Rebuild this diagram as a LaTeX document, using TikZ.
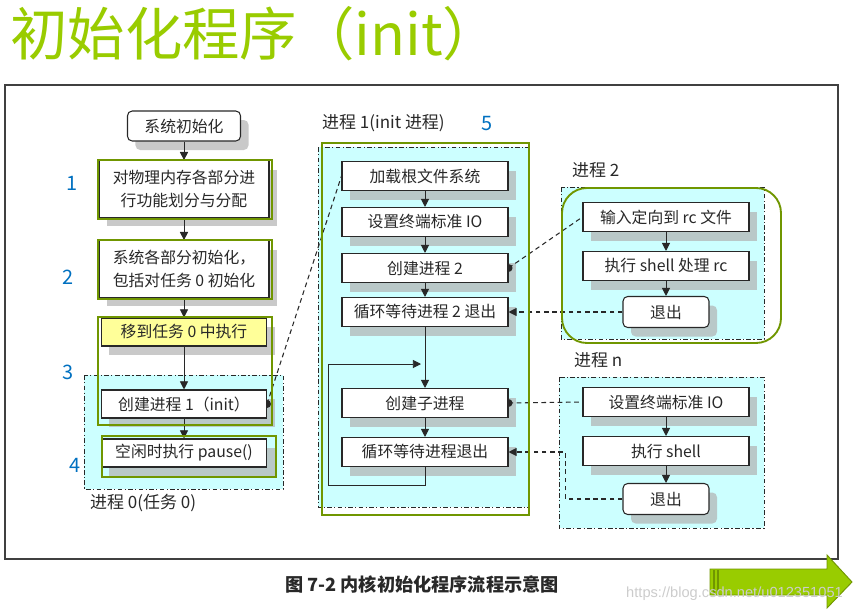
\documentclass[tikz,border=0pt]{standalone}
\usepackage{fontspec}
\setmainfont{Noto Sans CJK SC}
\newfontfamily\urlfont{Liberation Sans}
\usetikzlibrary{shadows, positioning, arrows.meta}

\definecolor{cyanbg}{RGB}{204,255,255}
\definecolor{olivegreen}{RGB}{112,150,0}
\definecolor{titlegreen}{RGB}{153,204,0}
\definecolor{numblue}{RGB}{0,112,192}
\definecolor{paleyellow}{RGB}{255,255,153}
\definecolor{inkgray}{RGB}{40,40,40}

\begin{document}
\begin{tikzpicture}[
    x=0.03cm, y=-0.03cm,
    stepbox/.style={rectangle, draw=inkgray, fill=white, line width=0.9pt, minimum width=4.98cm, minimum height=0.87cm, inner sep=1pt, text=inkgray, font=\fontsize{13.5}{16}\selectfont, drop shadow={shadow xshift=0.24cm, shadow yshift=-0.27cm, fill=gray!60, opacity=0.7}},
    leftbox/.style={stepbox, minimum width=4.95cm, minimum height=0.84cm},
    widebox/.style={stepbox, minimum width=5.1cm, minimum height=1.7cm, align=center, font=\fontsize{13.5}{19}\selectfont},
    startbox/.style={stepbox, rounded corners=4pt, minimum width=3.39cm, minimum height=0.9cm},
    endbox/.style={stepbox, rounded corners=4pt, minimum width=2.58cm, minimum height=0.93cm},
    region/.style={draw=inkgray, fill=cyanbg, line width=0.8pt, dash pattern=on 4pt off 2pt on 1pt off 2pt},
    hilite/.style={draw=olivegreen, line width=1.6pt},
    label/.style={anchor=west, text=inkgray, font=\fontsize{14.5}{16}\selectfont},
    num/.style={text=numblue, font=\fontsize{17}{17}\selectfont\itshape},
    arr/.style={-{Triangle[length=7pt,width=7pt]}, line width=0.8pt, inkgray},
    dsh/.style={dash pattern=on 4pt off 3pt, line width=0.9pt, inkgray},
    halfdot/.style={fill=inkgray}
]
    % bounding box and outer frame
    \useasboundingbox (0,0) rectangle (867,613);
    \node[anchor=west, text=titlegreen, font=\fontsize{49}{50}\selectfont, inner sep=0pt] (title) at (10,34) {初始化程序（init）};
    \draw[line width=2pt, gray!50!black] (5,85) rectangle (838,559);

    % Process regions
    \draw[region] (84,375) rectangle (283,489);
    \draw[region] (318,147) rectangle (528,507);
    \draw[region] (561,187) rectangle (764,339);
    \draw[region] (559,377) rectangle (764,528);

    % Process 0 (left column)
    \node[startbox] (sysinit) at (184,126) {系统初始化};
    \node[widebox] (memsplit) at (184,189) {对物理内存各部分进\\行功能划分与分配};
    \node[widebox] (partinit) at (184,269) {系统各部分初始化，\\包括对任务 0 初始化};
    \node[leftbox, fill=paleyellow] (totask) at (184,332) {移到任务 0 中执行};
    \node[leftbox] (create1) at (184,404) {创建进程 1（init）};
    \node[leftbox] (idle) at (184,453) {空闲时执行 pause()};

    % Process 1 (middle column)
    \node[stepbox] (loadfs) at (425,176) {加载根文件系统};
    \node[stepbox] (setio) at (425,222) {设置终端标准 IO};
    \node[stepbox] (create2) at (425,268) {创建进程 2};
    \node[stepbox] (wait2) at (425,312) {循环等待进程 2 退出};
    \node[stepbox] (child) at (425,403) {创建子进程};
    \node[stepbox] (waitall) at (425,452) {循环等待进程退出};
    \coordinate (loopin) at (421,364);

    % Process 2
    \node[stepbox] (redir) at (666,217) {输入定向到 rc 文件};
    \node[stepbox] (shellrc) at (666,266) {执行 shell 处理 rc};
    \node[endbox] (exit2) at (666,312) {退出};

    % Process n
    \node[stepbox] (nio) at (666,402) {设置终端标准 IO};
    \node[stepbox] (nshell) at (666,451) {执行 shell};
    \node[endbox] (exitn) at (666,499) {退出};

    % Region labels
    \node[label] (p0) at (86,503) {进程 0(任务 0)};
    \node[label] (p1) at (318,123) {进程 1(init 进程)};
    \node[label] (p2) at (568,170) {进程 2};
    \node[label] (pn) at (570,360) {进程 n};

    % Flow arrows
    \draw[arr] (sysinit) -- (memsplit);
    \draw[arr] (memsplit) -- (partinit);
    \draw[arr] (partinit) -- (totask);
    \draw[arr] (totask) -- (create1);
    \draw[arr] (create1) -- (idle);
    \draw[arr] (loadfs) -- (setio);
    \draw[arr] (setio) -- (create2);
    \draw[arr] (create2) -- (wait2);
    \draw[arr] (wait2) -- (child);
    \draw[arr] (child) -- (waitall);
    \draw[arr] (waitall.south) -- ++(0,18) -| (328,364) -- (loopin);
    \draw[arr] (redir) -- (shellrc);
    \draw[arr] (shellrc) -- (exit2);
    \draw[arr] (nio) -- (nshell);
    \draw[arr] (nshell) -- (exitn);

    % Half dots where processes are created
    \fill[halfdot] ([yshift=3.4pt]create1.east) arc[start angle=90, end angle=-90, radius=3.4pt] -- cycle;
    \fill[halfdot] ([yshift=3.4pt]create2.east) arc[start angle=90, end angle=-90, radius=3.4pt] -- cycle;
    \fill[halfdot] ([yshift=3.4pt]child.east) arc[start angle=90, end angle=-90, radius=3.4pt] -- cycle;

    % Dashed links between processes
    \draw[dsh] (create1.east) -- (loadfs.west);
    \draw[dsh] (create2.east) -- (redir.west);
    \draw[dsh, -{Triangle[length=7pt,width=7pt]}] (exit2.west) -- (wait2.east);
    \draw[dsh] (child.east) -- (nio.west);
    \draw[dsh, -{Triangle[length=7pt,width=7pt]}] (exitn.west) -- ++(-57,0) |- (waitall.east);

    % Green highlight frames
    \draw[hilite] (98,160) rectangle (272,219);
    \draw[hilite] (98,240) rectangle (272,299);
    \draw[hilite] (98,317) rectangle (272,425);
    \draw[hilite] (102,436) rectangle (276,477);
    \draw[hilite] (322,143) rectangle (529,515);
    \draw[hilite, rounded corners=0.75cm] (562,188) rectangle (781,343);

    % Step numbers
    \node[num] (n1) at (72,183) {1};
    \node[num] (n2) at (68,277) {2};
    \node[num] (n3) at (68,372) {3};
    \node[num] (n4) at (75,465) {4};
    \node[num] (n5) at (487,124) {5};

    % Caption, next arrow and watermark
    \node[font=\fontsize{15.5}{18}\selectfont\bfseries, text=inkgray] (caption) at (422,585) {图 7-2 内核初始化程序流程示意图};
    \fill[titlegreen, draw=olivegreen, line width=0.8pt] (710,569) -- (827,569) -- (827,555) -- (852,582) -- (827,608) -- (827,595) -- (710,595) -- cycle;
    \draw[olivegreen, line width=1.2pt] (714,570) -- (714,594) (718,570) -- (718,594);
    \node[anchor=west, inner sep=0pt, text=gray!40, font=\urlfont\fontsize{12.5}{14}\selectfont] (wmark) at (626,594) {https://blog.csdn.net/u012351051};
\end{tikzpicture}
\end{document}
